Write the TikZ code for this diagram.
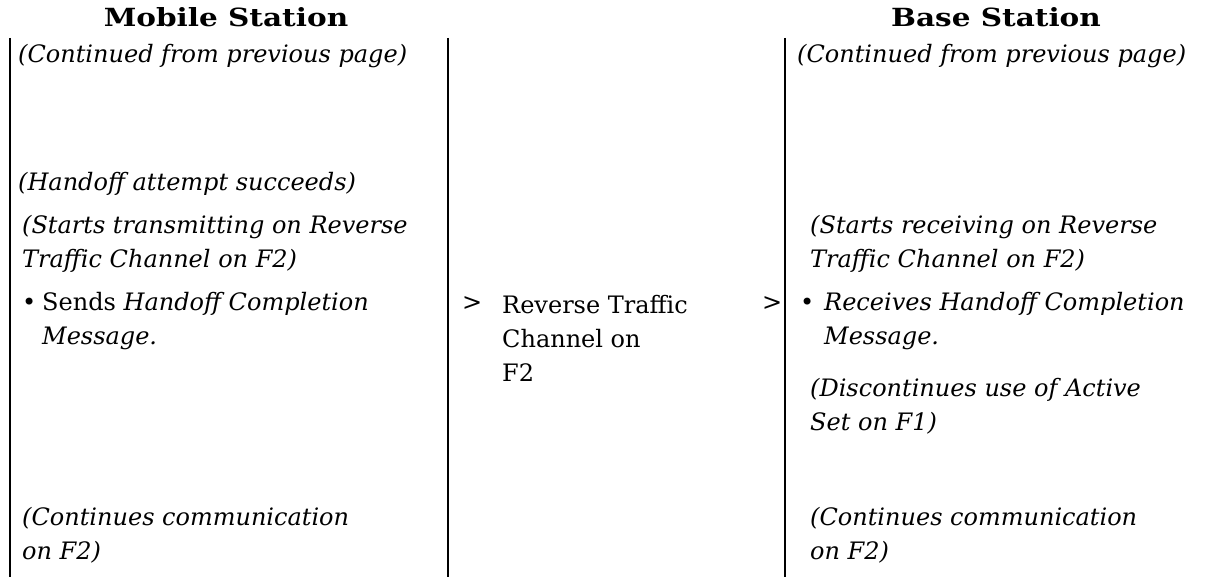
\documentclass[tikz,border=0pt]{standalone}
\usepackage{graphicx}
\usepackage{fontspec}
\setmainfont{DejaVu Serif}
\begin{document}
\begin{tikzpicture}[x=1pt,y=-1pt,
  txt/.style={font=\fontsize{24}{34}\selectfont, inner sep=0pt, anchor=west, align=left},
  itxt/.style={txt, font=\fontsize{24}{34}\selectfont\itshape},
  title/.style={font=\fontsize{25}{30}\selectfont\bfseries, inner sep=0pt, anchor=center},
  sep/.style={line width=1.8pt}]
\useasboundingbox (0,0) rectangle (1215,577);
% titles
\node[title] (ms) at (226,17) {\scalebox{1.18}[1]{Mobile Station}};
\node[title] (bs) at (996,17) {\scalebox{1.18}[1]{Base Station}};
% column separators
\coordinate (l1t) at (10,38);  \coordinate (l1b) at (10,577);
\coordinate (l2t) at (448,38); \coordinate (l2b) at (448,577);
\coordinate (l3t) at (785,38); \coordinate (l3b) at (785,577);
\draw[sep] (l1t) -- (l1b);
\draw[sep] (l2t) -- (l2b);
\draw[sep] (l3t) -- (l3b);
% mobile station column
\node[itxt] (mcont) at (18,56) {(Continued from previous page)};
\node[itxt] (mhand) at (18,184) {(Handoff attempt succeeds)};
\node[itxt] (mstart) at (22,244) {(Starts transmitting on Reverse\\Traffic Channel on F2)};
\node[txt] (mbul) at (22,304) {•};
\node[txt] (msend) at (42,321) {Sends \textit{Handoff Completion}\\\textit{Message.}};
\node[itxt] (mcomm) at (22,535) {(Continues communication\\on F2)};
% middle column
\node[txt] (g1) at (462,304) {>};
\node[txt] (rtc) at (502,338) {Reverse Traffic\\Channel on\\F2};
\node[txt] (g2) at (762,304) {>};
% base station column
\node[itxt] (bcont) at (797,56) {(Continued from previous page)};
\node[itxt] (bstart) at (810,244) {(Starts receiving on Reverse\\Traffic Channel on F2)};
\node[txt] (bbul) at (800,304) {•};
\node[itxt] (brec) at (824,321) {Receives Handoff Completion\\Message.};
\node[itxt] (bdisc) at (810,406) {(Discontinues use of Active\\Set on F1)};
\node[itxt] (bcomm) at (810,535) {(Continues communication\\on F2)};
\end{tikzpicture}
\end{document}
